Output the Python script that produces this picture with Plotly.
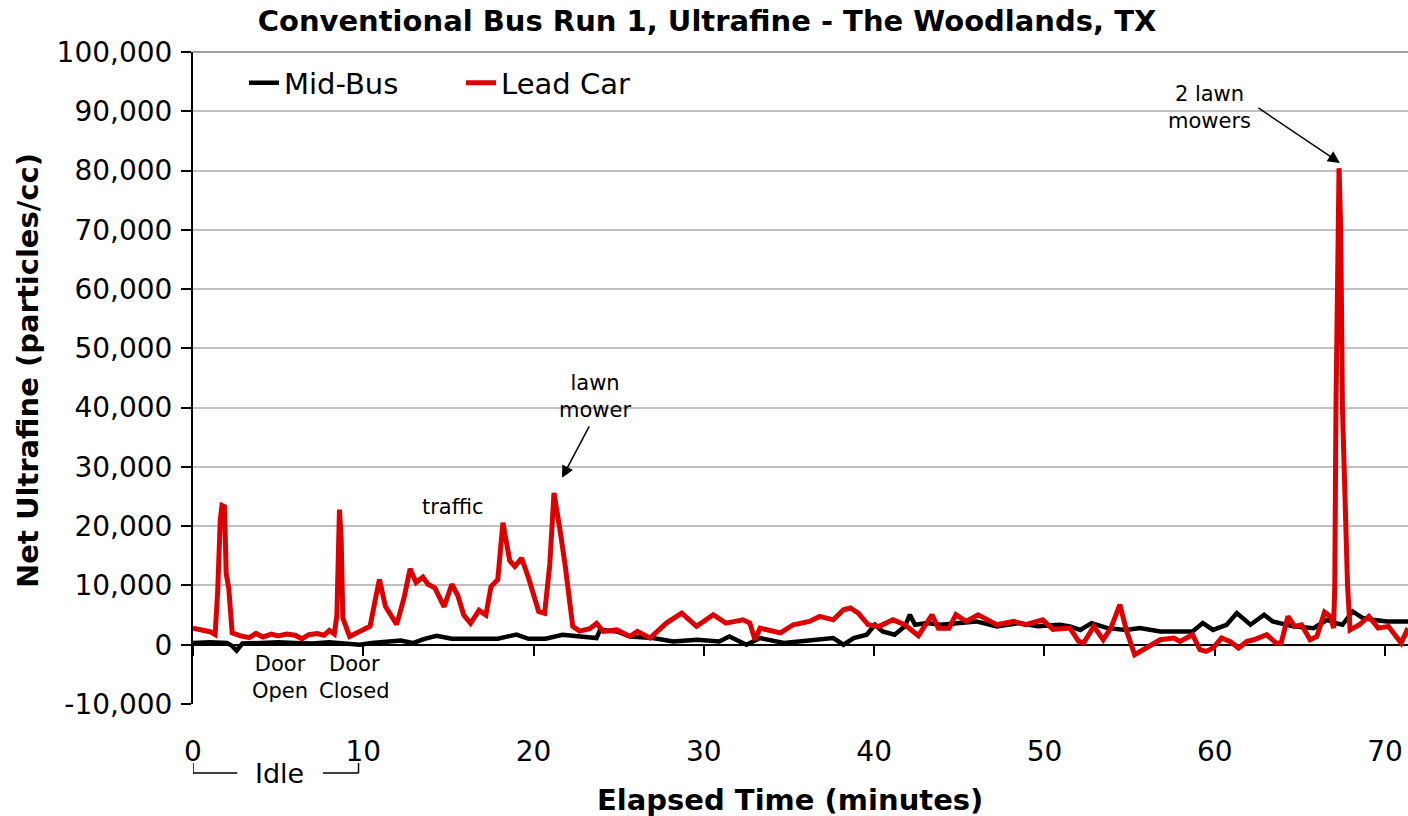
import plotly.graph_objects as go

# ---------------- data ----------------
mid_bus_t = [0.0, 1.0, 2.0, 2.3, 2.56, 2.9, 4.0, 5.0, 6.0, 7.0, 8.0, 9.0, 9.8, 10.5, 11.4,
             12.2, 12.9, 13.6, 14.3, 15.2, 16.5, 17.9, 18.5, 19.0, 19.7, 20.7, 21.7, 22.7,
             23.7, 23.9, 24.9, 25.66, 27.0, 28.2, 29.6, 30.9, 31.5, 32.5, 33.3, 34.7, 36.4,
             37.6, 38.2, 38.8, 39.56, 40.05, 40.5, 41.2, 41.8, 42.1, 42.4, 43.1, 43.9, 44.7,
             46.0, 47.2, 48.5, 49.6, 50.9, 51.5, 52.1, 52.77, 53.7, 54.8, 55.6, 56.8, 57.75,
             58.7, 59.3, 59.9, 60.7, 61.3, 62.1, 62.9, 63.4, 64.6, 65.8, 66.6, 67.1, 67.5,
             68.1, 68.7, 69.3, 70.1, 71.35]
mid_bus_v = [300, 400, 300, -200, -1000, 200, 300, 400, 300, 200, 400, 100, 0, 300, 600,
             700, 280, 1000, 1500, 1000, 1000, 1000, 1400, 1700, 1000, 1000, 1690, 1400,
             1130, 2500, 2250, 1400, 1130, 560, 840, 560, 1400, 0, 1130, 280, 840,
             1130, 0, 1130, 1690, 3370, 2250, 1690, 3100, 5060, 3370, 3650, 3370, 3650,
             3930, 3100, 3650, 3100, 3370, 3100, 2500, 3650, 2800, 2500, 2800, 2250, 2250,
             2250, 3650, 2500, 3370, 5340, 3370, 5060, 3930, 3100, 2800, 4200, 3650, 3370,
             5620, 4500, 4200, 3930, 3930]

lead_car_t = [0.0, 0.5, 1.0, 1.3, 1.45, 1.6, 1.7, 1.85, 1.95, 2.1, 2.3, 2.8, 3.3, 3.7, 4.1,
              4.6, 5.0, 5.5, 6.0, 6.4, 6.8, 7.3, 7.7, 8.0, 8.3, 8.45, 8.6, 8.7, 8.8, 9.2,
              9.6, 10.0, 10.4, 10.7, 10.95, 11.3, 11.96, 12.4, 12.75, 13.1, 13.5, 13.8, 14.2,
              14.75, 15.2, 15.55, 15.9, 16.3, 16.8, 17.2, 17.5, 17.9, 18.2, 18.6, 18.9, 19.3,
              19.7, 20.3, 20.65, 20.95, 21.2, 21.55, 21.85, 22.3, 22.7, 23.3, 23.7, 24.1,
              24.9, 25.66, 26.1, 26.84, 27.8, 28.7, 29.57, 30.55, 31.3, 32.3, 32.7, 33.0,
              33.3, 34.5, 35.25, 36.2, 36.8, 37.6, 38.2, 38.6, 39.07, 39.65, 40.3, 41.1,
              41.8, 42.6, 43.4, 43.77, 44.4, 44.8, 45.4, 46.1, 47.2, 48.2, 48.9, 49.9, 50.5,
              51.5, 52.0, 52.3, 52.9, 53.45, 53.9, 54.43, 54.83, 55.3, 56.0, 56.8, 57.6,
              57.96, 58.7, 59.13, 59.5, 59.9, 60.4, 60.9, 61.4, 61.9, 62.3, 63.05, 63.6,
              63.9, 64.3, 64.7, 65.1, 65.6, 66.0, 66.45, 66.8, 66.98, 67.05, 67.12, 67.3,
              67.4, 67.5, 67.8, 67.95, 68.5, 69.05, 69.6, 70.2, 70.95, 71.35]
lead_car_v = [2800, 2600, 2200, 1700, 9000, 21000, 23500, 23300, 12000, 9500, 2000, 1500,
              1200, 1900, 1300, 1800, 1500, 1800, 1600, 1000, 1700, 1900, 1600, 2400, 1800,
              5000, 22800, 18000, 4500, 1400, 2000, 2400, 3100, 7500, 11000, 6500, 3400,
              8000, 12800, 10500, 11400, 10200, 9600, 6400, 10200, 8300, 5000, 3600, 5800,
              5000, 9800, 11000, 20600, 14200, 13200, 14600, 11300, 5600, 5300, 13500,
              25600, 19400, 13500, 3100, 2300, 2700, 3600, 2250, 2500, 1400, 2250, 1130,
              3650, 5340, 3100, 5060, 3650, 4200, 3650, 840, 2800, 2000, 3370, 3930, 4780,
              4200, 5900, 6200, 5340, 3370, 3100, 4200, 3370, 1520, 5060, 2800, 2800, 5060,
              3930, 5060, 3370, 3930, 3370, 4200, 2600, 2800, 600, 300, 3100, 840, 2800,
              6750, 2250, -1690, -560, 840, 1130, 560, 1690, -840, -1130, -560, 1130, 560,
              -560, 560, 840, 1690, 280, 280, 4800, 3100, 3370, 840, 1400, 5500, 4780, 2800,
              10000, 40000, 80400, 70000, 40000, 10000, 2500, 3370, 4780, 2800, 3100, 280,
              2800]

y_tick_values = [-10000, 0, 10000, 20000, 30000, 40000, 50000, 60000, 70000, 80000, 90000, 100000]
y_tick_labels = [f"{v:,}" for v in y_tick_values]
x_tick_values = [0, 10, 20, 30, 40, 50, 60, 70]

FONT = "DejaVu Sans"
RED = "#dd0000"

fig = go.Figure()
fig.add_trace(go.Scatter(x=mid_bus_t, y=mid_bus_v, mode="lines", name="Mid-Bus",
                         line=dict(color="black", width=4.5)))
fig.add_trace(go.Scatter(x=lead_car_t, y=lead_car_v, mode="lines", name="Lead Car",
                         line=dict(color=RED, width=5)))

x_max = 71.35
fig.update_layout(
    width=1408, height=816,
    margin=dict(l=193, r=0, t=52, b=112, autoexpand=False),
    paper_bgcolor="white", plot_bgcolor="white",
    font=dict(family=FONT, color="black", size=28),
    title=dict(text="<b>Conventional Bus Run 1, Ultrafine - The Woodlands, TX</b>",
               x=(707 - 193) / 1215, xref="paper", xanchor="center", y=1 - 21 / 816,
               yanchor="middle", font=dict(family=FONT, size=29, color="black")),
    showlegend=True,
    legend=dict(orientation="h", x=0.042, xanchor="left", y=0.9525, yanchor="middle",
                font=dict(family=FONT, size=29), bgcolor="rgba(0,0,0,0)",
                entrywidth=172, itemwidth=30),
    xaxis=dict(range=[0, x_max], tickvals=x_tick_values, showgrid=False, zeroline=False,
               showline=True, linecolor="black", linewidth=2, ticks="outside", ticklen=10,
               tickwidth=2, tickcolor="black", anchor="free", position=10000 / 110000,
               ticklabelstandoff=72, tickfont=dict(size=28), layer="below traces"),
    yaxis=dict(range=[-10000, 100000], tickvals=y_tick_values, ticktext=y_tick_labels,
               showgrid=True, gridcolor="#c0c0c0", gridwidth=1.5, zeroline=False,
               showline=True, linecolor="black", linewidth=2, ticks="outside", ticklen=10,
               tickwidth=2, tickcolor="black", ticklabelstandoff=3,
               tickfont=dict(size=28), layer="below traces"),
)

# top border line of plot area
fig.add_shape(type="line", xref="paper", yref="paper", x0=0, x1=1, y0=1, y1=1,
              line=dict(color="#808080", width=1.5), layer="below")

# Axis titles
fig.add_annotation(text="<b>Net Ultrafine (particles/cc)</b>", xref="paper", yref="paper",
                   x=(28 - 193) / 1215, y=(704 - 371) / 652, textangle=-90, showarrow=False,
                   font=dict(size=29, family=FONT), xanchor="center", yanchor="middle")
fig.add_annotation(text="<b>Elapsed Time (minutes)</b>", xref="paper", yref="paper",
                   x=(790 - 193) / 1215, y=(704 - 800) / 652, showarrow=False,
                   font=dict(size=29, family=FONT), xanchor="center", yanchor="middle")

# Text annotations
small = dict(size=21, family=FONT, color="black")
fig.add_annotation(text="traffic", x=15.27, y=23270, showarrow=False, font=small)
fig.add_annotation(text="Door<br>Open", x=5.1, y=-5560, showarrow=False, font=small)
fig.add_annotation(text="Door<br>Closed", x=9.5, y=-5560, showarrow=False, font=small)
fig.add_annotation(text="lawn<br>mower", x=23.6, y=41800, showarrow=False, font=small)
fig.add_annotation(text="", x=21.67, y=28160, ax=28, ay=-53, showarrow=True,
                   arrowhead=2, arrowsize=1.6, arrowwidth=1.5, arrowcolor="black")
fig.add_annotation(text="2 lawn<br>mowers", x=59.7, y=90560, showarrow=False, font=small)
fig.add_annotation(text="", x=67.35, y=81280, ax=-83, ay=-56, showarrow=True,
                   arrowhead=2, arrowsize=1.6, arrowwidth=1.5, arrowcolor="black")

# Idle bracket
fig.add_annotation(text="Idle", xref="x", yref="paper", x=5.1, y=(704 - 773) / 652,
                   showarrow=False, font=dict(size=27, family=FONT), yanchor="middle")
yb = (704 - 773) / 652
yt = (704 - 763) / 652
bl = dict(color="black", width=1.5)
fig.add_shape(type="line", xref="x", yref="paper", x0=0, x1=0, y0=yt, y1=yb, line=bl)
fig.add_shape(type="line", xref="x", yref="paper", x0=0, x1=2.6, y0=yb, y1=yb, line=bl)
fig.add_shape(type="line", xref="x", yref="paper", x0=7.63, x1=9.72, y0=yb, y1=yb, line=bl)
fig.add_shape(type="line", xref="x", yref="paper", x0=9.72, x1=9.72, y0=yt, y1=yb, line=bl)

fig.write_html("out.html", config={"displayModeBar": False},
               post_script="document.body.style.margin='0';document.body.style.overflow='hidden';")
